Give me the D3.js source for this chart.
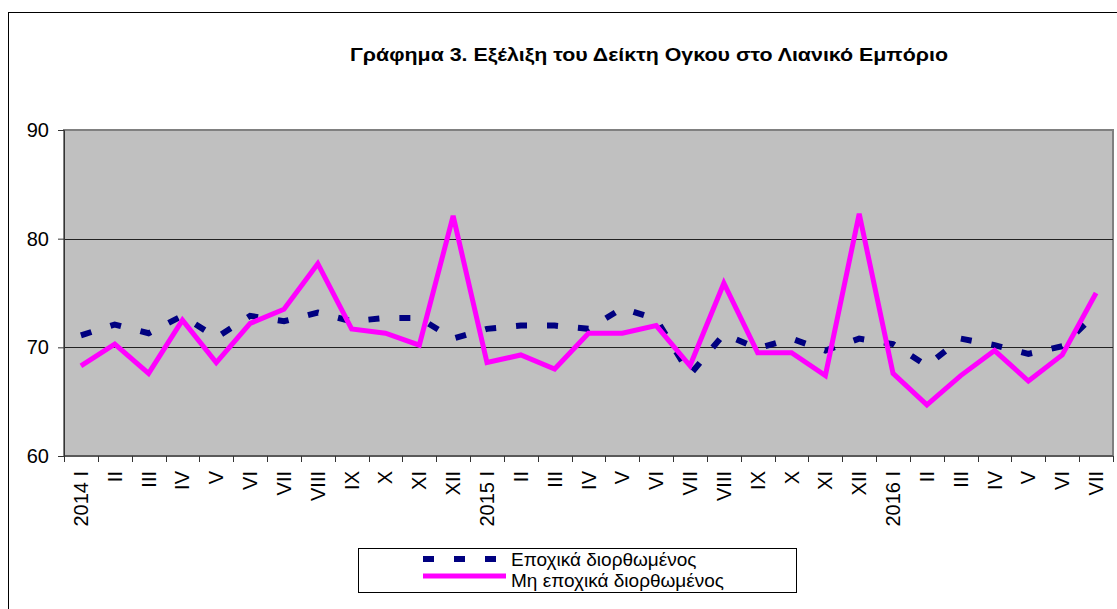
<!DOCTYPE html>
<html>
<head>
<meta charset="utf-8">
<script src="https://d3js.org/d3.v7.min.js"></script>
<style>
  body { margin: 0; background: #fff; }
  svg { display: block; font-family: "Liberation Sans", Arial, sans-serif; }
</style>
</head>
<body>
<div class="retailChart"></div>
<script>
// months, one label per point
const months = ['2014 I', 'II', 'III', 'IV', 'V', 'VI', 'VII', 'VIII', 'IX', 'X', 'XI', 'XII',
    '2015 I', 'II', 'III', 'IV', 'V', 'VI', 'VII', 'VIII', 'IX', 'X', 'XI', 'XII',
    '2016 I', 'II', 'III', 'IV', 'V', 'VI', 'VII']

// Εποχικά διορθωμένος
const seasonal = [71.1, 72.1, 71.3, 72.9, 70.9, 72.9, 72.4, 73.2, 72.4, 72.7, 72.7, 70.8,
    71.7, 72.0, 72.0, 71.7, 73.6, 72.6, 67.5, 71.2, 69.9, 70.8, 69.7, 70.8,
    70.3, 68.3, 70.8, 70.2, 69.4, 70.1, 73.1]

// Μη εποχικά διορθωμένος
const unadjusted = [68.3, 70.3, 67.6, 72.5, 68.6, 72.2, 73.5, 77.7, 71.7, 71.3, 70.2, 82.1,
    68.6, 69.3, 68.0, 71.3, 71.3, 72.0, 68.3, 75.9, 69.5, 69.5, 67.4, 82.3,
    67.6, 64.7, 67.4, 69.7, 66.9, 69.3, 75.0]

const yTicks = [60, 70, 80, 90]
const gridValues = [70, 80]

const title = 'Γράφημα 3. Εξέλιξη του Δείκτη Ογκου στο Λιανικό Εμπόριο'
const seriesNames = ['Εποχικά διορθωμένος', 'Μη εποχικά διορθωμένος']

const width = 1117, height = 609
const margin = { top: 130, right: 4, bottom: 153, left: 64 }
const innerW = width - margin.left - margin.right
const innerH = height - margin.top - margin.bottom

const x = d3.scaleBand()
    .domain(d3.range(months.length))
    .range([0, innerW])

const y = d3.scaleLinear()
    .domain([60, 90])
    .range([innerH, 0])

const svg = d3.select('.retailChart')
    .append('svg')
    .attr('width', width)
    .attr('height', height)

// chart frame (runs off the right and bottom edge)
svg.append('rect')
    .attr('x', 8.5).attr('y', 12.5)
    .attr('width', 1200).attr('height', 700)
    .attr('fill', 'none')
    .attr('stroke', '#000')

svg.append('text')
    .attr('x', 649)
    .attr('y', 61)
    .attr('text-anchor', 'middle')
    .attr('font-weight', 'bold')
    .attr('font-size', 18)
    .attr('textLength', 598)
    .attr('lengthAdjust', 'spacingAndGlyphs')
    .text(title)

const g = svg.append('g')
    .attr('transform', `translate(${margin.left},${margin.top})`)

g.append('rect')
    .attr('width', innerW)
    .attr('height', innerH)
    .attr('fill', '#c0c0c0')
    .attr('stroke', '#808080')
    .attr('stroke-width', 2)

g.selectAll('.grid')
    .data(gridValues)
    .join('line')
    .attr('class', 'grid')
    .attr('x1', 0).attr('x2', innerW)
    .attr('y1', d => Math.round(y(d)) + 0.5)
    .attr('y2', d => Math.round(y(d)) + 0.5)
    .attr('stroke', '#222')

// y axis
const yAxis = g.append('g')
    .call(d3.axisLeft(y).tickValues(yTicks).tickSize(6).tickPadding(9))
yAxis.select('.domain').attr('stroke', '#333')
yAxis.selectAll('line').attr('stroke', '#333')
yAxis.selectAll('text')
    .attr('font-size', 20)
    .attr('font-family', '"Liberation Sans", Arial, sans-serif')
    .attr('fill', '#000')

// x axis: ticks between months, labels rotated
const xAxis = g.append('g')
    .attr('transform', `translate(0,${innerH})`)
xAxis.append('line')
    .attr('x1', 0).attr('x2', innerW)
    .attr('stroke', '#333')
xAxis.selectAll('.xtick')
    .data(d3.range(months.length + 1))
    .join('line')
    .attr('class', 'xtick')
    .attr('x1', d => Math.round(d * x.bandwidth()) + 0.5)
    .attr('x2', d => Math.round(d * x.bandwidth()) + 0.5)
    .attr('y1', 0).attr('y2', 6)
    .attr('stroke', '#333')
xAxis.selectAll('.xlabel')
    .data(months)
    .join('text')
    .attr('class', 'xlabel')
    .attr('transform', (d, i) => `translate(${x(i) + x.bandwidth() / 2},15) rotate(-90)`)
    .attr('text-anchor', 'end')
    .attr('dy', '0.35em')
    .attr('font-size', 20)
    .text(d => d)

const line = d3.line()
    .x((d, i) => x(i) + x.bandwidth() / 2)
    .y(d => y(d))

g.append('path')
    .datum(seasonal)
    .attr('d', line)
    .attr('fill', 'none')
    .attr('stroke', '#000080')
    .attr('stroke-width', 6)
    .attr('stroke-dasharray', '11,20')

g.append('path')
    .datum(unadjusted)
    .attr('d', line)
    .attr('fill', 'none')
    .attr('stroke', '#ff00ff')
    .attr('stroke-width', 5)
    .attr('stroke-linejoin', 'miter')

// legend
const legend = svg.append('g')
    .attr('transform', 'translate(358,548)')

legend.append('rect')
    .attr('x', 0.5).attr('y', 0.5)
    .attr('width', 438).attr('height', 44)
    .attr('fill', '#fff')
    .attr('stroke', '#000')

legend.append('line')
    .attr('x1', 65).attr('x2', 140)
    .attr('y1', 11).attr('y2', 11)
    .attr('stroke', '#000080')
    .attr('stroke-width', 6)
    .attr('stroke-dasharray', '11,20')

legend.append('line')
    .attr('x1', 65).attr('x2', 148)
    .attr('y1', 28).attr('y2', 28)
    .attr('stroke', '#ff00ff')
    .attr('stroke-width', 5)

legend.selectAll('.legendText')
    .data(seriesNames)
    .join('text')
    .attr('class', 'legendText')
    .attr('x', 153)
    .attr('y', (d, i) => 18 + i * 21)
    .attr('font-size', 19)
    .text(d => d)
</script>
</body>
</html>
